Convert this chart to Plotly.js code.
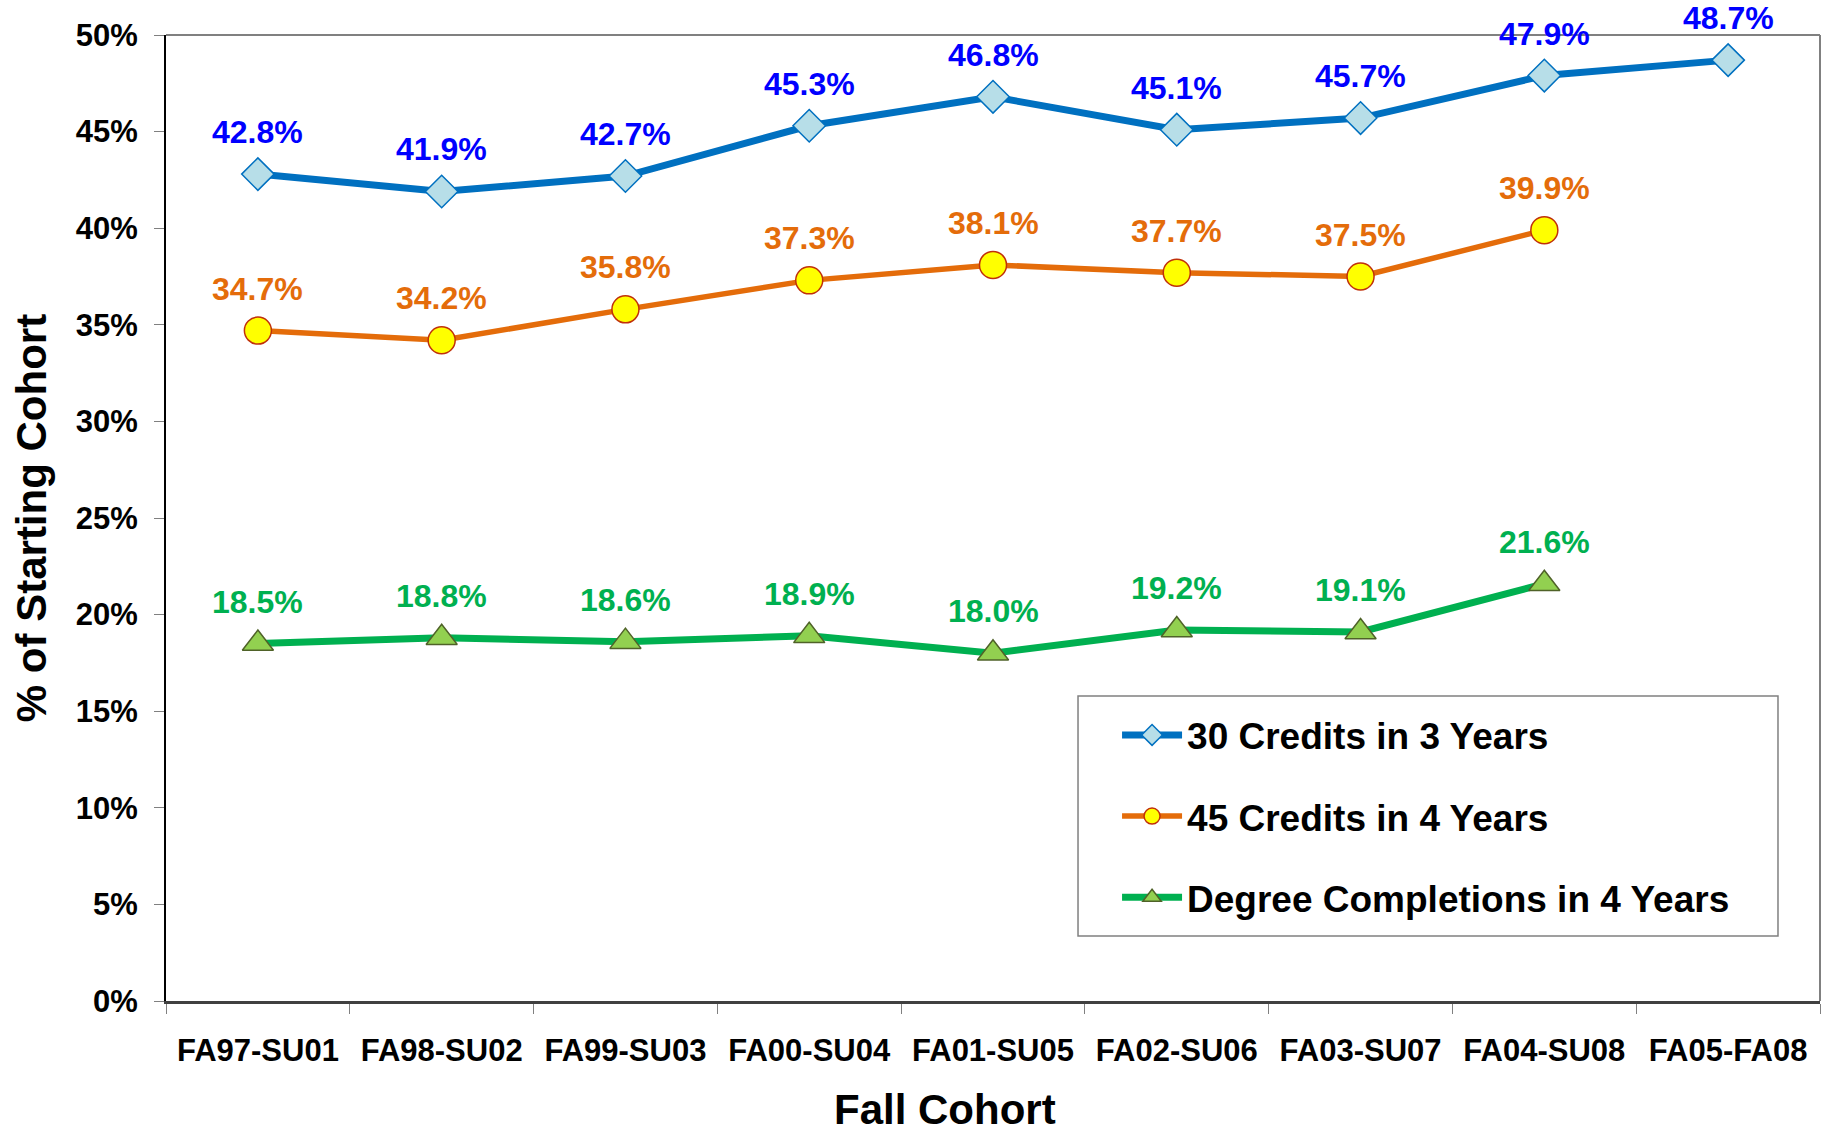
<!DOCTYPE html>
<html>
<head>
<meta charset="utf-8">
<script src="https://cdn.plot.ly/plotly-3.0.1.min.js"></script>
<style>html,body{margin:0;padding:0;background:#fff;}#chart{width:1826px;height:1136px;}</style>
</head>
<body>
<div id="chart"></div>
<script>
const cohorts = ["FA97-SU01","FA98-SU02","FA99-SU03","FA00-SU04","FA01-SU05","FA02-SU06","FA03-SU07","FA04-SU08","FA05-FA08"];
const credits30 = [42.8, 41.9, 42.7, 45.3, 46.8, 45.1, 45.7, 47.9, 48.7];
const credits45 = [34.7, 34.2, 35.8, 37.3, 38.1, 37.7, 37.5, 39.9, null];
const degrees4 = [18.5, 18.8, 18.6, 18.9, 18.0, 19.2, 19.1, 21.6, null];
const seriesNames = ["30 Credits in 3 Years", "45 Credits in 4 Years", "Degree Completions in 4 Years"];

const FONT = "Liberation Sans, Arial, Helvetica, sans-serif";

const traces = [
  {x: cohorts, y: credits30, name: seriesNames[0], mode: "lines+markers", legendgroup: "a",
   line: {color: "#0070C0", width: 7},
   marker: {symbol: "diamond", size: 25, color: "#B7DEE8", line: {color: "#0070C0", width: 1.5}}},
  {x: cohorts, y: credits45, name: seriesNames[1], mode: "lines+markers", legendgroup: "b",
   line: {color: "#E46C0A", width: 5.5},
   marker: {symbol: "circle", size: 27, color: "#FFFF00", line: {color: "#C0300A", width: 1.5}}},
  {x: cohorts, y: degrees4, name: seriesNames[2], mode: "lines+markers", legendgroup: "c",
   line: {color: "#00B050", width: 7},
   marker: {symbol: "triangle-up", size: 27, color: "#92D050", line: {color: "#4F6228", width: 1.5}}}
];

const labelColors = ["#0000FF", "#E46C0A", "#00B050"];
const annotations = [];
[credits30, credits45, degrees4].forEach((arr, si) => {
  arr.forEach((v, i) => {
    if (v === null) return;
    annotations.push({x: cohorts[i], y: v, xref: "x", yref: "y", text: v.toFixed(1) + "%",
      showarrow: false, yshift: 42,
      font: {family: FONT, size: 32, color: labelColors[si], weight: "bold"}});
  });
});
annotations.push({x: 0.471, y: -0.112, xref: "paper", yref: "paper", xanchor: "center", yanchor: "middle",
  text: "Fall Cohort", showarrow: false,
  font: {family: FONT, size: 42, color: "#000", weight: "bold"}});

const layout = {
  width: 1826, height: 1136,
  margin: {l: 166, r: 6, t: 35, b: 135},
  paper_bgcolor: "#ffffff", plot_bgcolor: "#ffffff",
  font: {family: FONT, color: "#000"},
  showlegend: true,
  legend: {x: 0.575, y: 0.307, xanchor: "left", yanchor: "top",
    bgcolor: "rgba(0,0,0,0)", borderwidth: 0,
    font: {family: FONT, size: 37, color: "#000", weight: "bold"},
    traceorder: "grouped", tracegroupgap: 30, itemwidth: 60},
  xaxis: {type: "category", range: [-0.5, 8.5], showgrid: false, zeroline: false,
    showline: true, linecolor: "#404040", linewidth: 3,
    ticks: "outside", tickson: "boundaries", ticklen: 10, tickcolor: "#808080", tickwidth: 1,
    ticklabelstandoff: 20,
    tickfont: {family: FONT, size: 31, color: "#000", weight: "bold"}},
  yaxis: {range: [0, 50], dtick: 5, tick0: 0, ticksuffix: "%", showgrid: false, zeroline: false,
    showline: true, linecolor: "#000", linewidth: 2,
    ticks: "outside", ticklen: 10, tickcolor: "#808080", tickwidth: 1,
    ticklabelstandoff: 10,
    tickfont: {family: FONT, size: 31, color: "#000", weight: "bold"},
    title: {text: "% of Starting Cohort", standoff: 16, font: {family: FONT, size: 42, color: "#000", weight: "bold"}}},
  shapes: [
    {type: "line", xref: "paper", yref: "paper", x0: 0, x1: 1, y0: 1, y1: 1, line: {color: "#808080", width: 2}, layer: "below"},
    {type: "line", xref: "paper", yref: "paper", x0: 1, x1: 1, y0: 0, y1: 1, line: {color: "#808080", width: 2}, layer: "below"},
    {type: "rect", xref: "paper", yref: "paper", x0: 0.5514, x1: 0.9746, y0: 0.0673, y1: 0.3157,
     line: {color: "#808080", width: 1.5}, fillcolor: "#ffffff", layer: "below"}
  ],
  annotations: annotations
};

Plotly.newPlot("chart", traces, layout, {displayModeBar: false, staticPlot: true});
</script>
</body>
</html>
